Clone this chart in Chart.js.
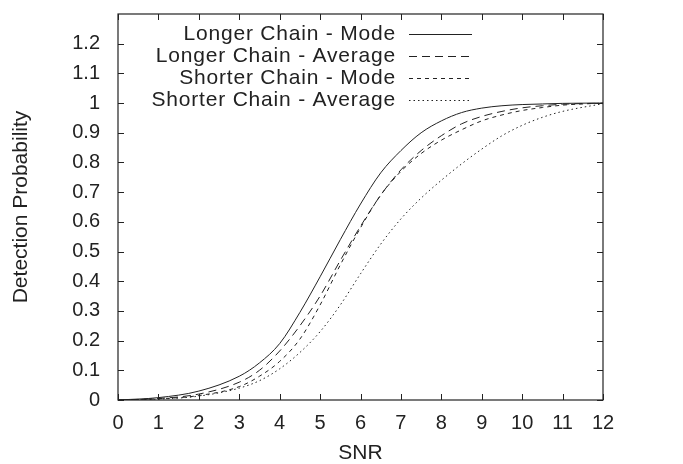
<!DOCTYPE html>
<html>
<head>
<meta charset="utf-8">
<script src="https://cdn.jsdelivr.net/npm/chart.js@4.4.1/dist/chart.umd.min.js"></script>
<style>
  html, body { margin: 0; padding: 0; background: #fff; }
  #wrap { width: 683px; height: 464px; }
</style>
</head>
<body>
<div id="wrap"><canvas id="chart" width="683" height="464"></canvas></div>
<script>
const snr = [0, 1, 2, 3, 3.5, 4, 4.5, 5, 5.5, 6, 6.5, 7, 7.5, 8, 8.5, 9, 9.5, 10, 10.5, 11, 12];
const longerMode = [0, 0.008, 0.03, 0.08, 0.125, 0.19, 0.295, 0.415, 0.54, 0.66, 0.765, 0.84, 0.9, 0.94, 0.968, 0.983, 0.991, 0.995, 0.997, 0.999, 1];
const longerAvg = [0, 0.005, 0.02, 0.06, 0.1, 0.165, 0.25, 0.35, 0.47, 0.585, 0.69, 0.775, 0.84, 0.89, 0.93, 0.955, 0.972, 0.984, 0.991, 0.996, 1];
const shorterMode = [0, 0.004, 0.015, 0.045, 0.08, 0.13, 0.205, 0.32, 0.455, 0.58, 0.69, 0.77, 0.83, 0.875, 0.91, 0.94, 0.96, 0.975, 0.985, 0.993, 1];
const shorterAvg = [0, 0.003, 0.013, 0.04, 0.065, 0.105, 0.16, 0.23, 0.32, 0.425, 0.525, 0.61, 0.68, 0.74, 0.795, 0.845, 0.89, 0.925, 0.952, 0.972, 0.998];
const seriesNames = ['Longer Chain - Mode', 'Longer Chain - Average', 'Shorter Chain - Mode', 'Shorter Chain - Average'];
const dashes = [[], [8, 5], [4, 4], [1.5, 3]];
const xTicks = [0, 1, 2, 3, 4, 5, 6, 7, 8, 9, 10, 11, 12];
const yTicks = [0, 0.1, 0.2, 0.3, 0.4, 0.5, 0.6, 0.7, 0.8, 0.9, 1, 1.1, 1.2];

const ink = '#222';
const family = "'Liberation Sans', Arial, sans-serif";
const tickFont = { family: family, size: 20 };
const titleFont = { family: family, size: 21, lineHeight: 1 };

function toPoints(ys) {
  return snr.map((x, i) => ({ x: x, y: ys[i] }));
}

const allSeries = [longerMode, longerAvg, shorterMode, shorterAvg];
const datasets = allSeries.map((ys, i) => ({
  label: seriesNames[i],
  data: toPoints(ys),
  borderColor: ink,
  borderWidth: 1,
  borderDash: dashes[i],
  pointRadius: 0,
  fill: false,
  cubicInterpolationMode: 'monotone',
}));

// frame + inward ticks on all four sides (gnuplot style)
const framePlugin = {
  id: 'frame',
  afterDatasetsDraw(chart) {
    const { ctx, chartArea: a, scales } = chart;
    ctx.save();
    ctx.strokeStyle = ink;
    ctx.lineWidth = 1.2;
    ctx.strokeRect(a.left, a.top, a.right - a.left, a.bottom - a.top);
    ctx.lineWidth = 1;
    ctx.beginPath();
    xTicks.forEach((v) => {
      const px = Math.round(scales.x.getPixelForValue(v)) + 0.5;
      ctx.moveTo(px, a.bottom); ctx.lineTo(px, a.bottom - 6);
      ctx.moveTo(px, a.top); ctx.lineTo(px, a.top + 6);
    });
    yTicks.forEach((v) => {
      const py = Math.round(scales.y.getPixelForValue(v)) + 0.5;
      ctx.moveTo(a.left, py); ctx.lineTo(a.left + 6, py);
      ctx.moveTo(a.right, py); ctx.lineTo(a.right - 6, py);
    });
    ctx.stroke();
    ctx.restore();
  },
};

// key in top right: text right aligned, line sample after it
const keyPlugin = {
  id: 'key',
  afterDatasetsDraw(chart) {
    const { ctx, chartArea: a } = chart;
    ctx.save();
    ctx.font = '21px ' + family;
    ctx.letterSpacing = '0.8px';
    ctx.fillStyle = ink;
    ctx.textAlign = 'right';
    ctx.textBaseline = 'middle';
    chart.data.datasets.forEach((ds, i) => {
      const y = a.top + 20 + i * 22;
      ctx.fillText(ds.label, a.left + 278, y);
      ctx.strokeStyle = ink;
      ctx.lineWidth = 1;
      ctx.setLineDash(ds.borderDash);
      ctx.beginPath();
      ctx.moveTo(a.left + 291, y + 0.5);
      ctx.lineTo(a.left + 354, y + 0.5);
      ctx.stroke();
    });
    ctx.restore();
  },
};

new Chart(document.getElementById('chart').getContext('2d'), {
  type: 'line',
  data: { datasets: datasets },
  options: {
    responsive: false,
    animation: false,
    layout: { padding: { top: 14, right: 80, left: 0, bottom: 0 } },
    plugins: {
      legend: { display: false },
      tooltip: { enabled: false },
    },
    scales: {
      x: {
        type: 'linear',
        min: 0,
        max: 12,
        afterFit: (s) => { s.height = 64; s.paddingLeft = 0; s.paddingRight = 0; },
        afterBuildTicks: (s) => { s.ticks = xTicks.map((v) => ({ value: v })); },
        grid: { display: false },
        border: { display: false },
        ticks: { color: ink, font: tickFont, padding: 3, maxRotation: 0 },
        title: { display: true, text: 'SNR', color: ink, font: titleFont, padding: { top: 0, bottom: 0 } },
      },
      y: {
        type: 'linear',
        min: 0,
        max: 1.3,
        afterFit: (s) => { s.width = 118; s.paddingTop = 0; s.paddingBottom = 0; },
        afterBuildTicks: (s) => { s.ticks = yTicks.map((v) => ({ value: v })); },
        grid: { display: false },
        border: { display: false },
        ticks: { color: ink, font: tickFont, padding: 10, callback: (v) => String(+v.toFixed(1)) },
        title: { display: true, text: 'Detection Probability', color: ink, font: titleFont, padding: { top: 11, bottom: 0 } },
      },
    },
  },
  plugins: [framePlugin, keyPlugin],
});
</script>
</body>
</html>
